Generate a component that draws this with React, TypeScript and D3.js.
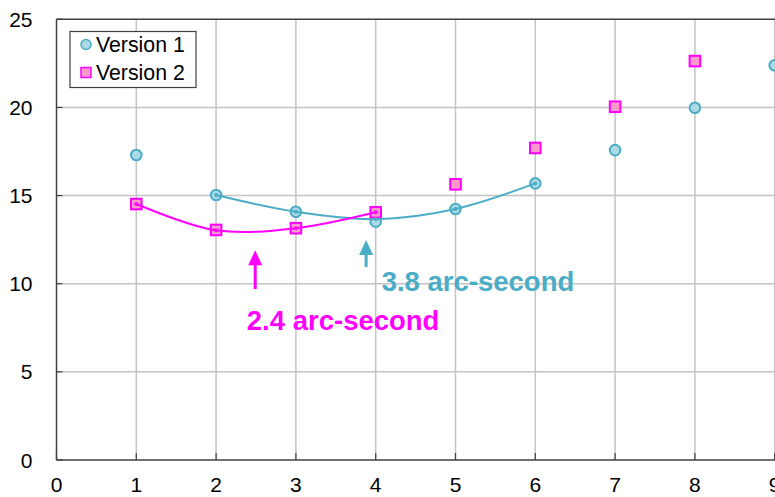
import React from "react";
import * as d3 from "d3";

const xTicks = [0, 1, 2, 3, 4, 5, 6, 7, 8, 9];
const yTicks = [0, 5, 10, 15, 20, 25];

const v1X = [1, 2, 3, 4, 5, 6, 7, 8, 9];
const v1Y = [17.3, 15.03, 14.08, 13.52, 14.24, 15.69, 17.58, 19.98, 22.39];

const v2X = [1, 2, 3, 4, 5, 6, 7, 8];
const v2Y = [14.52, 13.05, 13.15, 14.05, 15.64, 17.7, 20.04, 22.63];

const fit1X = [2, 3, 4, 5, 6];
const fit1Y = [15.03, 14.08, 13.66, 14.24, 15.69];

const fit2X = [1, 2, 3, 4];
const fit2Y = [14.52, 13.03, 13.15, 14.05];

const legendLabels = ["Version 1", "Version 2"];

const annotations = [
  { text: "2.4 arc-second", arrowX: 2.49, arrowTop: 11.9, arrowBottom: 9.7, labelX: 2.385, labelY: 7.36, color: "#ff00ff" },
  { text: "3.8 arc-second", arrowX: 3.88, arrowTop: 12.48, arrowBottom: 10.95, labelX: 4.075, labelY: 9.56, color: "#4bacc6" },
];

const W = 775;
const H = 497;
const FONT = "'Liberation Sans', Arial, Helvetica, sans-serif";
const C1 = "#4bacc6";
const C1F = "#acdbe5";
const C2 = "#ff00ff";
const C2F = "#ff99cc";

export default function App() {
  const x = d3.scaleLinear().domain([0, 10]).range([56.5, 56.5 + 79.8 * 10]);
  const y = d3.scaleLinear().domain([0, 25]).range([460, 19.3]);
  const x0 = x(0);
  const xR = x(10);
  const line = d3
    .line<[number, number]>()
    .x((d) => x(d[0]))
    .y((d) => y(d[1]))
    .curve(d3.curveCatmullRom.alpha(0.5));
  const fit1: [number, number][] = fit1X.map((v, i) => [v, fit1Y[i]]);
  const fit2: [number, number][] = fit2X.map((v, i) => [v, fit2Y[i]]);
  const axisColor = "#404040";
  const gridColor = "#c4c4c4";
  return (
    <svg
      width={W}
      height={H}
      style={{ position: "absolute", left: 0, top: 0, background: "#fff" }}
      fontFamily={FONT}
    >
      <rect x={0} y={0} width={W} height={H} fill="#fff" />
      {/* grid */}
      {yTicks.filter((t) => t > 0 && t < 25).map((t) => (
        <line key={"gy" + t} x1={x0} x2={xR} y1={y(t)} y2={y(t)} stroke={gridColor} strokeWidth={1.5} />
      ))}
      {xTicks.filter((t) => t > 0).map((t) => (
        <line key={"gx" + t} x1={x(t)} x2={x(t)} y1={y(0)} y2={y(25)} stroke={gridColor} strokeWidth={1.5} />
      ))}
      {/* frame */}
      <line x1={x0} x2={xR} y1={y(25)} y2={y(25)} stroke={axisColor} strokeWidth={1.5} />
      <line x1={x0} x2={xR} y1={y(0)} y2={y(0)} stroke={axisColor} strokeWidth={1.5} />
      <line x1={x0} x2={x0} y1={y(0)} y2={y(25)} stroke={axisColor} strokeWidth={1.5} />
      {/* ticks */}
      {xTicks.map((t) => (
        <line key={"tx" + t} x1={x(t)} x2={x(t)} y1={y(0)} y2={y(0) - 7} stroke={axisColor} strokeWidth={1.2} />
      ))}
      {yTicks.map((t) => (
        <line key={"ty" + t} x1={x0} x2={x0 + 6} y1={y(t)} y2={y(t)} stroke={axisColor} strokeWidth={1.2} />
      ))}
      {/* tick labels */}
      {xTicks.map((t) => (
        <text key={"lx" + t} x={x(t)} y={492} textAnchor="middle" fontSize={21} fill="#000">
          {t}
        </text>
      ))}
      {yTicks.map((t) => (
        <text key={"ly" + t} x={32.5} y={y(t) + 7.5} textAnchor="end" fontSize={21} fill="#000">
          {t}
        </text>
      ))}
      {/* markers */}
      {v1X.map((v, i) => (
        <circle key={"p1" + i} cx={x(v)} cy={y(v1Y[i])} r={5.3} fill={C1F} stroke={C1} strokeWidth={2} />
      ))}
      {v2X.map((v, i) => (
        <rect key={"p2" + i} x={x(v) - 5.3} y={y(v2Y[i]) - 5.3} width={10.6} height={10.6} fill={C2F} stroke={C2} strokeWidth={2} />
      ))}
      {/* fit curves */}
      <path d={line(fit1) || ""} fill="none" stroke={C1} strokeWidth={2} />
      <path d={line(fit2) || ""} fill="none" stroke={C2} strokeWidth={2} />
      {fit1.map((d, i) => (
        <circle key={"f1" + i} cx={x(d[0])} cy={y(d[1])} r={2} fill={C1} />
      ))}
      {fit2.map((d, i) => (
        <circle key={"f2" + i} cx={x(d[0])} cy={y(d[1])} r={2} fill={C2} />
      ))}
      {/* annotations */}
      {annotations.map((a, i) => {
        const ax = x(a.arrowX);
        const top = y(a.arrowTop);
        const bot = y(a.arrowBottom);
        return (
          <g key={"an" + i}>
            <line x1={ax} x2={ax} y1={top + 12} y2={bot} stroke={a.color} strokeWidth={3} />
            <path d={`M${ax},${top} L${ax + 7},${top + 15} L${ax - 7},${top + 15} Z`} fill={a.color} />
            <text x={x(a.labelX)} y={y(a.labelY)} fontSize={27.5} fontWeight="bold" fill={a.color}>
              {a.text}
            </text>
          </g>
        );
      })}
      {/* legend */}
      <rect x={70} y={31.5} width={126} height={56} fill="#fff" stroke="#404040" strokeWidth={1.2} />
      <circle cx={86} cy={44.5} r={5} fill={C1F} stroke={C1} strokeWidth={1.5} />
      <text x={96} y={52} fontSize={21.3} fill="#000">{legendLabels[0]}</text>
      <rect x={81} y={67.5} width={10} height={10} fill={C2F} stroke={C2} strokeWidth={1.5} />
      <text x={96} y={80} fontSize={21.3} fill="#000">{legendLabels[1]}</text>
    </svg>
  );
}
